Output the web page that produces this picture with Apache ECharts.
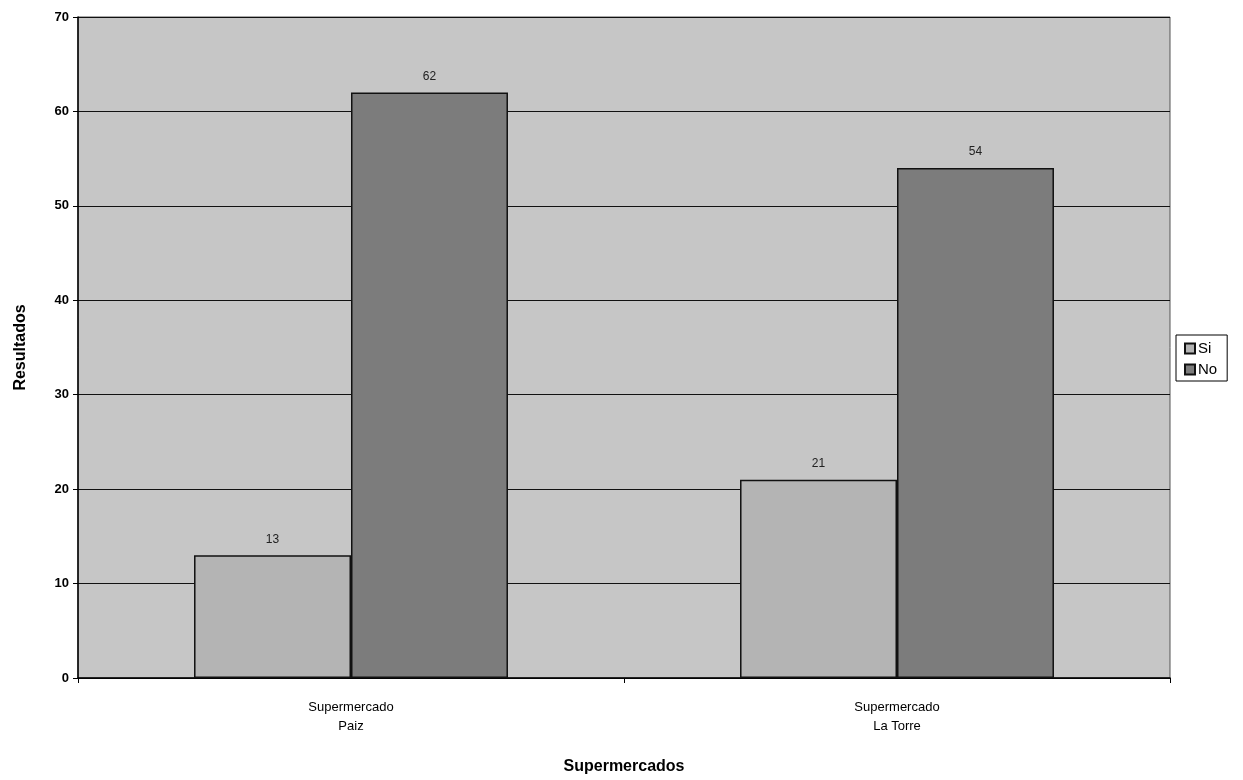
<!DOCTYPE html>
<html><head><meta charset="utf-8">
<script src="https://cdn.jsdelivr.net/npm/echarts@6/dist/echarts.min.js"></script>
<style>html,body{margin:0;padding:0;background:#fff}#c{width:1243px;height:780px}</style>
</head><body><div id="c"></div>
<script>
const categories = ['Supermercado\nPaiz', 'Supermercado\nLa Torre'];
const si = [13, 21];
const no = [62, 54];
const yTicks = [0, 10, 20, 30, 40, 50, 60, 70];

const chart = echarts.init(document.getElementById('c'));
const F = 'Liberation Sans, Arial, sans-serif';
chart.setOption({
  animation: false,
  grid: { left: 78, right: 73, top: 17, bottom: 100, show: true, backgroundColor: '#c6c6c6', borderColor: '#555', borderWidth: 1 },
  legend: {
    data: ['Si', 'No'], orient: 'vertical', left: 1176, top: 335, icon: 'rect',
    itemWidth: 10, itemHeight: 10, itemGap: 6, padding: [6, 10, 4, 8],
    borderColor: '#000', borderWidth: 1, backgroundColor: '#fff',
    textStyle: { fontFamily: F, fontSize: 15, color: '#000', padding: [0, 0, 0, -2] }
  },
  xAxis: {
    type: 'category', data: categories,
    name: 'Supermercados', nameLocation: 'middle', nameGap: 81,
    nameTextStyle: { fontFamily: F, fontSize: 16, fontWeight: 'bold', color: '#000' },
    axisLine: { lineStyle: { color: '#000', width: 1.5 } },
    axisTick: { show: true, length: 5, lineStyle: { color: '#000' } },
    axisLabel: { fontFamily: F, fontSize: 13, color: '#000', margin: 20, lineHeight: 19 }
  },
  yAxis: {
    type: 'value', min: 0, max: 70, interval: 10,
    name: 'Resultados', nameLocation: 'middle', nameGap: 49, nameRotate: 90,
    nameTextStyle: { fontFamily: F, fontSize: 16, fontWeight: 'bold', color: '#000' },
    axisLine: { show: true, lineStyle: { color: '#000', width: 1.5 } },
    axisTick: { show: true, length: 5, lineStyle: { color: '#000' } },
    axisLabel: { fontFamily: F, fontSize: 13, fontWeight: 'bold', color: '#000', margin: 9,
      formatter: v => yTicks.includes(v) ? String(v) : '' },
    splitLine: { show: true, lineStyle: { color: '#111', width: 1.2 } }
  },
  series: [
    { name: 'Si', type: 'bar', data: si, barGap: '0%', barCategoryGap: '42.5%',
      itemStyle: { color: '#b4b4b4', borderColor: '#111', borderWidth: 1.5 },
      label: { show: true, position: 'top', fontFamily: F, fontSize: 12, color: '#222', distance: 10 } },
    { name: 'No', type: 'bar', data: no, barGap: '0%', barCategoryGap: '42.5%',
      itemStyle: { color: '#7c7c7c', borderColor: '#111', borderWidth: 1.5 },
      label: { show: true, position: 'top', fontFamily: F, fontSize: 12, color: '#222', distance: 10 } }
  ]
});
</script></body></html>
